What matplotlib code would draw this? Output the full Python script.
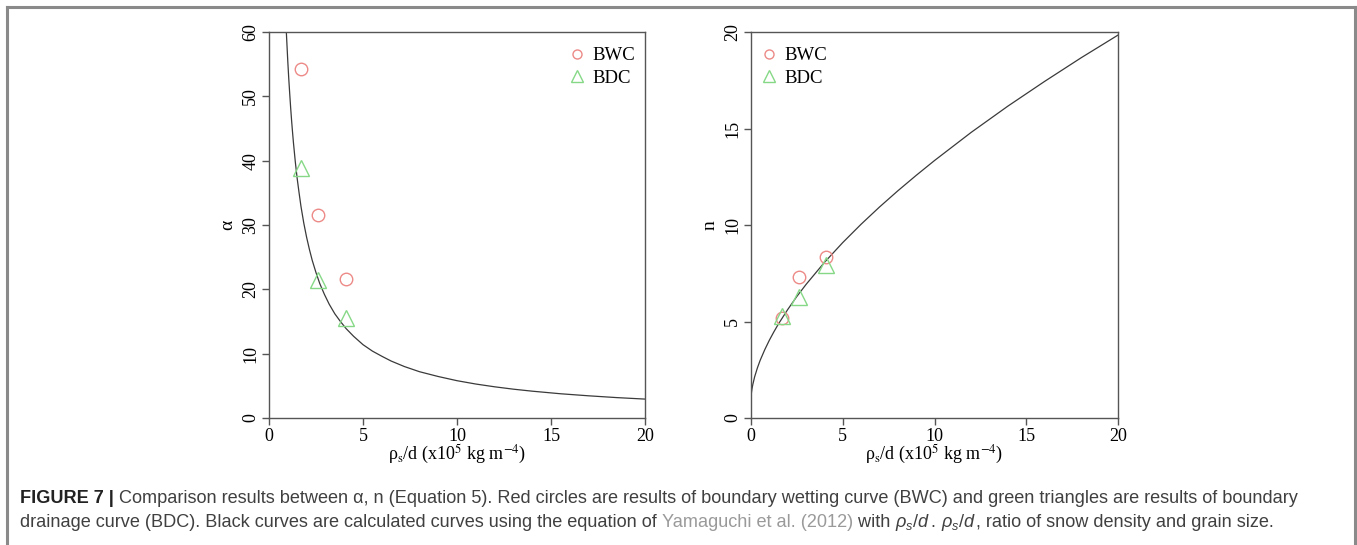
import matplotlib
matplotlib.use("Agg")
import matplotlib.pyplot as plt
from matplotlib.lines import Line2D

# ---------------- data ----------------
# measured points (x in 1e5 kg m^-4)
bwc_x = [1.7, 2.6, 4.1]
bwc_alpha = [54.2, 31.6, 21.6]
bdc_x = [1.7, 2.6, 4.1]
bdc_alpha = [38.8, 21.5, 15.6]

bwc_n = [5.2, 7.3, 8.35]
bdc_n = [5.3, 6.25, 7.95]

# calculated curve (Yamaguchi et al. 2012)
curve_alpha_x = [0.92, 1.0, 1.05, 1.1, 1.15, 1.2, 1.25, 1.3, 1.4, 1.5, 1.6, 1.7, 1.85, 2.0, 2.15,
                 2.3, 2.5, 2.7, 2.95, 3.2, 3.5, 3.8, 4.1, 4.5, 5.0, 5.5, 6.0, 6.5, 7.2, 8.0, 9.0,
                 10.0, 11.0, 12.0, 13.0, 14.0, 15.5, 17.0, 18.5, 20.0]
curve_alpha_y = [60.1, 55.4, 52.8, 50.5, 48.3, 46.3, 44.5, 42.8, 39.8, 37.2, 35.0, 32.9, 30.3, 28.1, 26.2,
                 24.5, 22.6, 20.9, 19.2, 17.7, 16.2, 15.0, 13.9, 12.7, 11.4, 10.4, 9.6, 8.85, 8.0, 7.2, 6.45,
                 5.80, 5.28, 4.85, 4.48, 4.17, 3.77, 3.45, 3.17, 2.94]

curve_n_x = [0.0, 0.005, 0.02, 0.05, 0.1, 0.2, 0.35, 0.5, 0.75, 1.0, 1.25, 1.5, 2.0, 2.5, 3.0,
             4.0, 5.0, 6.0, 7.0, 8.0, 9.0, 10.0, 12.0, 14.0, 16.0, 18.0, 20.0]
curve_n_y = [1.0, 1.12, 1.28, 1.49, 1.74, 2.14, 2.60, 2.99, 3.54, 4.03, 4.47, 4.88, 5.62, 6.30, 6.92,
             8.06, 9.09, 10.04, 10.93, 11.77, 12.57, 13.34, 14.80, 16.16, 17.44, 18.67, 19.84]

x_ticks = [0, 5, 10, 15, 20]
alpha_ticks = [0, 10, 20, 30, 40, 50, 60]
n_ticks = [0, 5, 10, 15, 20]

series_labels = ["BWC", "BDC"]

# ---------------- style ----------------
RED = "#ec8a87"
GREEN = "#86d886"
CURVE = "#3a3a3a"
SPINE = "#555555"
SERIF = "Liberation Serif"
SANS = "Liberation Sans"

plt.rcParams["mathtext.fontset"] = "custom"
plt.rcParams["mathtext.rm"] = "Liberation Sans"
plt.rcParams["mathtext.it"] = "Liberation Sans:italic"

W, H = 1357, 545
fig = plt.figure(figsize=(W / 100, H / 100), dpi=100)
fig.patch.set_facecolor("white")


def px_axes(x0, y0, x1, y1):
    return fig.add_axes([x0 / W, 1 - y1 / H, (x1 - x0) / W, (y1 - y0) / H])


xlabel = r"ρ$_{\mathrm{s}}$/d (x10$^{5}$ kg m$^{\mathrm{-4}}$)"


def style(ax, yticks, ylim, ylabel):
    ax.set_xlim(0, 20)
    ax.set_ylim(*ylim)
    ax.set_xticks(x_ticks)
    ax.set_yticks(yticks)
    ax.set_xticklabels([str(t) for t in x_ticks], fontfamily=SERIF, fontsize=13)
    ax.set_yticklabels([str(t) for t in yticks], fontfamily=SERIF, fontsize=13,
                       rotation=90, va="center")
    ax.tick_params(direction="out", length=5, width=1, color=SPINE, pad=2)
    ax.tick_params(axis="y", pad=2)
    for s in ax.spines.values():
        s.set_color(SPINE)
        s.set_linewidth(1)
    ax.set_xlabel(xlabel, fontfamily=SERIF, fontsize=13, math_fontfamily="stix", labelpad=-1)
    ax.set_ylabel(ylabel, fontfamily=SERIF, fontsize=14, labelpad=4)


# left panel: alpha
ax1 = px_axes(269, 32, 645, 418)
ax1.plot(curve_alpha_x, curve_alpha_y, color=CURVE, lw=0.9)
ax1.plot(bwc_x, bwc_alpha, ls="none", marker="o", ms=9, mfc="none", mec=RED, mew=1.0)
ax1.plot(bdc_x, bdc_alpha, ls="none", marker="^", ms=12, mfc="none", mec=GREEN, mew=1.0)
style(ax1, alpha_ticks, (0, 60), "α")

# right panel: n
ax2 = px_axes(751, 32, 1118, 418)
ax2.plot(curve_n_x, curve_n_y, color=CURVE, lw=0.9)
ax2.plot(bwc_x, bwc_n, ls="none", marker="o", ms=9, mfc="none", mec=RED, mew=1.0)
ax2.plot(bdc_x, bdc_n, ls="none", marker="^", ms=12, mfc="none", mec=GREEN, mew=1.0)
style(ax2, n_ticks, (0, 20), "n")

handles = [Line2D([], [], ls="none", marker="o", ms=6.5, mfc="none", mec=RED, mew=1.0),
           Line2D([], [], ls="none", marker="^", ms=8.5, mfc="none", mec=GREEN, mew=1.0)]
for ax, loc, anchor in [(ax1, "upper right", (1.013, 1.0)), (ax2, "upper left", (-0.017, 1.0))]:
    ax.legend(handles, series_labels, loc=loc, bbox_to_anchor=anchor, frameon=False,
              prop={"family": SERIF, "size": 13.5}, handlelength=1.0, handletextpad=0.3,
              labelspacing=0.3, borderaxespad=0.4)

# outer frame (open at bottom)
frame_kw = dict(color="#8a8a8a", lw=2.2, transform=fig.transFigure)
fig.add_artist(Line2D([7 / W, 7 / W], [0, 1 - 7 / H], **frame_kw))
fig.add_artist(Line2D([7 / W, 1355 / W], [1 - 7 / H, 1 - 7 / H], **frame_kw))
fig.add_artist(Line2D([1355 / W, 1355 / W], [0, 1 - 7 / H], **frame_kw))

# caption built from styled runs
TXT = "#404040"
LINK = "#9a9a9a"
cap_size = 13.05
line1 = [("FIGURE 7 |", dict(weight="bold", color="#222222")),
         (" Comparison results between α, n (Equation 5). Red circles are results of boundary "
          "wetting curve (BWC) and green triangles are results of boundary", dict(color=TXT))]
line2 = [("drainage curve (BDC). Black curves are calculated curves using the equation of ", dict(color=TXT)),
         ("Yamaguchi et al. (2012)", dict(color=LINK)),
         (" with ", dict(color=TXT)),
         (r"$\rho_s/d$", dict(color=TXT, style="italic")),
         (". ", dict(color=TXT)),
         (r"$\rho_s/d$", dict(color=TXT, style="italic")),
         (", ratio of snow density and grain size.", dict(color=TXT))]

fig.canvas.draw()
renderer = fig.canvas.get_renderer()
for runs, ybase in [(line1, 503), (line2, 527)]:
    x = 20
    for s, kw in runs:
        t = fig.text(x / W, 1 - ybase / H, s, fontfamily=SANS, fontsize=cap_size,
                     va="baseline", ha="left", **kw)
        bb = t.get_window_extent(renderer)
        x += bb.width

fig.savefig("out.png", dpi=100, facecolor="white")
